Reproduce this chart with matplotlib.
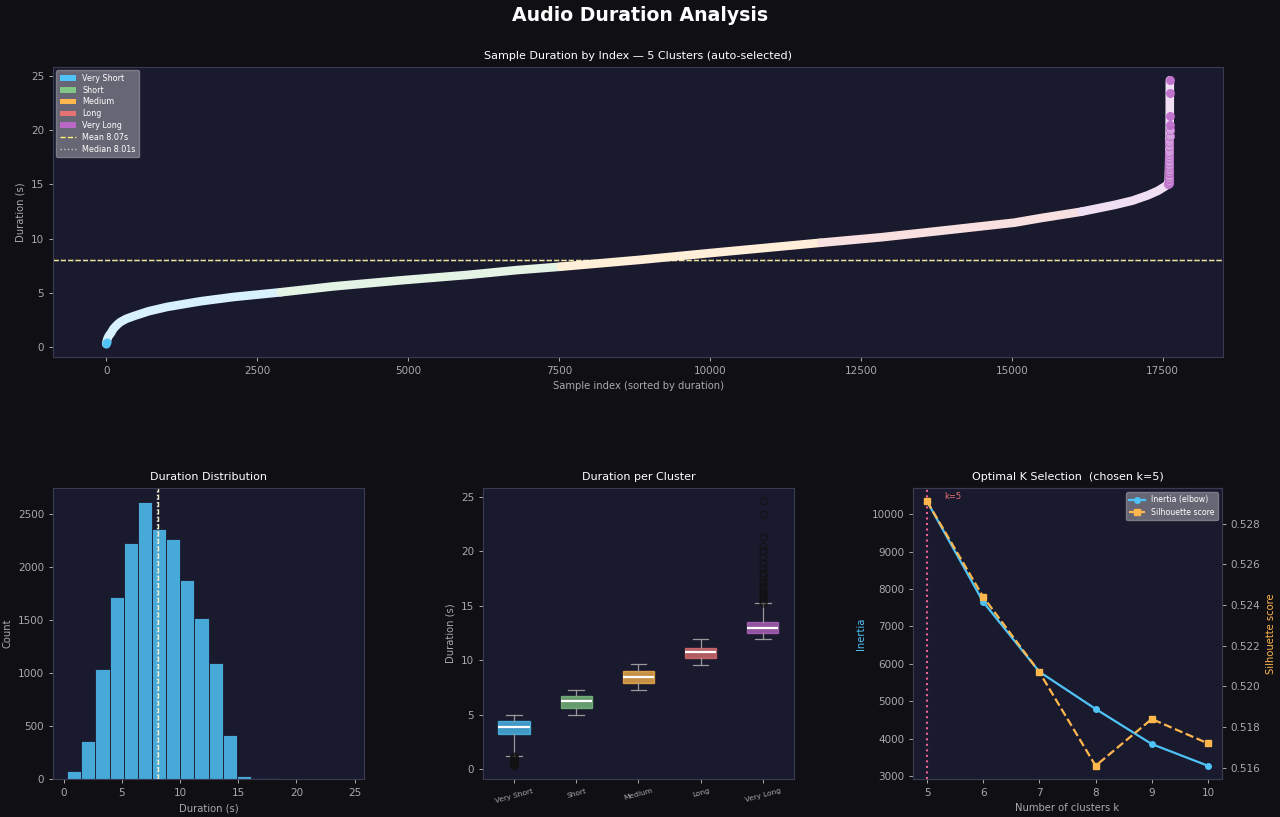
import numpy as np
import matplotlib
matplotlib.use("Agg")
import matplotlib.pyplot as plt
from matplotlib.patches import Patch
from matplotlib.lines import Line2D
from matplotlib.colors import to_rgb

# ---- data ----
cluster_names = ["Very Short", "Short", "Medium", "Long", "Very Long"]
cluster_colors = ["#4fc3f7", "#81c784", "#ffb74d", "#e57373", "#ba68c8"]
cluster_bounds = [4.95, 7.30, 9.60, 11.90]

mean_dur = 8.07
median_dur = 8.01

# sorted durations: sparse head, main band, steep tail
head_index = [0, 3, 6, 10, 15, 20, 28, 36, 46, 58, 70]
head_duration = [0.30, 0.38, 0.46, 0.55, 0.65, 0.75, 0.85, 0.95, 1.05, 1.15, 1.22]

curve_index = [121, 180, 232, 330, 453, 700, 1006, 1559, 2111, 2886, 3770, 4876,
               5982, 6811, 7529, 8856, 10066, 11841, 12836, 13942, 15045, 15460,
               16153, 16700, 17000, 17258, 17420, 17534, 17570]
curve_duration = [1.70, 2.05, 2.30, 2.60, 2.85, 3.30, 3.70, 4.22, 4.62, 5.05, 5.60, 6.15,
                  6.65, 7.10, 7.41, 8.05, 8.70, 9.62, 10.12, 10.79, 11.47, 11.87,
                  12.48, 13.10, 13.50, 14.00, 14.40, 14.79, 14.95]

tail_index = [17596, 17597, 17598, 17599, 17600, 17601, 17602, 17603, 17604, 17605,
              17606, 17607, 17608, 17609, 17610, 17611, 17612, 17613, 17614, 17615,
              17616, 17617, 17618, 17619]
tail_duration = [15.0, 15.1, 15.2, 15.3, 15.45, 15.6, 15.8, 16.0, 16.15, 16.3,
                 16.6, 16.8, 17.1, 17.4, 17.7, 18.0, 18.5, 18.9, 19.5, 20.0,
                 20.45, 21.3, 23.4, 24.6]

# histogram
hist_start = 0.30
hist_width = 1.215
hist_counts = [76, 360, 1040, 1714, 2225, 2614, 2358, 2263, 1875, 1515,
               1098, 415, 30, 8, 5, 2, 2, 1, 0, 2]

# box stats per cluster
box_whislo = [1.23, 4.94, 7.31, 9.61, 11.92]
box_q1 = [3.26, 5.62, 7.92, 10.17, 12.47]
box_med = [3.84, 6.23, 8.45, 10.72, 12.93]
box_q3 = [4.42, 6.70, 9.00, 11.15, 13.54]
box_whishi = [4.98, 7.31, 9.64, 11.95, 15.29]

# k selection
k_values = [5, 6, 7, 8, 9, 10]
inertia = [10339, 7652, 5786, 4795, 3857, 3277]
silhouette = [0.5291, 0.5244, 0.5207, 0.5161, 0.5184, 0.5172]
chosen_k = 5

BG = "#0f0f14"
AX_BG = "#1a1a2e"
GRID_C = "#3a3a52"
TXT = "#aaaaaa"
TICK_FS = 7.5
LABEL_FS = 7.2


def pale(c, f=0.78):
	r, g, b = to_rgb(c)
	return (r + (1 - r) * f, g + (1 - g) * f, b + (1 - b) * f)


def style_ax(ax):
	ax.set_facecolor(AX_BG)
	for s in ax.spines.values():
		s.set_color(GRID_C)
		s.set_linewidth(0.8)
	ax.tick_params(colors=TXT, labelsize=TICK_FS, length=2.8, width=0.7)
	ax.xaxis.label.set_color(TXT)
	ax.yaxis.label.set_color(TXT)


fig = plt.figure(figsize=(12.8, 8.17), dpi=100, facecolor=BG)
fig.suptitle("Audio Duration Analysis", color="white", fontsize=13.6, fontweight="bold", y=0.993)

# ---- top: sorted durations ----
ax = fig.add_axes([0.0414, 0.563, 0.9141, 0.355])
style_ax(ax)

all_idx = np.array(head_index + curve_index + tail_index)
all_dur = np.array(head_duration + curve_duration + tail_duration)
labels = np.digitize(all_dur, cluster_bounds)

for k, c in enumerate(cluster_colors):
	sel = np.where(labels == k)[0]
	if k < len(cluster_colors) - 1:
		sel = np.append(sel, sel[-1] + 1)
	ax.plot(all_idx[sel], all_dur[sel], color=pale(c), lw=6.2,
		solid_capstyle="round", solid_joinstyle="round", zorder=2)

ax.scatter(head_index[:3], head_duration[:3], s=36, color=cluster_colors[0],
	alpha=0.8, linewidths=0, zorder=3)
ax.scatter(tail_index[:-4], tail_duration[:-4], s=36, color=pale(cluster_colors[4], 0.35),
	edgecolors=cluster_colors[4], linewidths=0.6, alpha=0.9, zorder=3)
ax.scatter(tail_index[-4:], tail_duration[-4:], s=42, color=cluster_colors[4],
	alpha=0.9, linewidths=0, zorder=3)

ax.axhline(mean_dur, color="#fff176", ls="--", lw=1.0, zorder=1)
ax.axhline(median_dur, color="#cccccc", ls=":", lw=1.0, zorder=1)
ax.margins(x=0.05, y=0.05)
ax.set_title("Sample Duration by Index — 5 Clusters (auto-selected)", color="white", fontsize=8)
ax.set_xlabel("Sample index (sorted by duration)", fontsize=LABEL_FS)
ax.set_ylabel("Duration (s)", fontsize=LABEL_FS)
ax.set_xticks([0, 2500, 5000, 7500, 10000, 12500, 15000, 17500])

handles = [Patch(facecolor=c, label=n) for c, n in zip(cluster_colors, cluster_names)]
handles.append(Line2D([], [], color="#fff176", ls="--", lw=1.0, label=f"Mean {mean_dur:.2f}s"))
handles.append(Line2D([], [], color="#cccccc", ls=":", lw=1.0, label=f"Median {median_dur:.2f}s"))
ax.legend(handles=handles, loc="upper left", fontsize=5.8, facecolor="#7a7a86",
	edgecolor="#8a8a96", framealpha=0.8, labelcolor="white", handlelength=2.0,
	borderpad=0.45, labelspacing=0.35, borderaxespad=0.4)

# ---- bottom left: histogram ----
ax1 = fig.add_axes([0.0414, 0.0465, 0.243, 0.356])
style_ax(ax1)
lefts = hist_start + hist_width * np.arange(len(hist_counts))
ax1.bar(lefts, hist_counts, width=hist_width, align="edge", color="#4fc3f7",
	alpha=0.85, edgecolor=AX_BG, linewidth=0.7)
ax1.axvline(mean_dur, color="#f5f0c0", ls="--", lw=1.0)
ax1.axvline(median_dur, color="#dddddd", ls=":", lw=1.0)
ax1.set_title("Duration Distribution", color="white", fontsize=8)
ax1.set_xlabel("Duration (s)", fontsize=LABEL_FS)
ax1.set_ylabel("Count", fontsize=LABEL_FS)
ax1.set_xticks([0, 5, 10, 15, 20, 25])

# ---- bottom middle: boxplot ----
ax2 = fig.add_axes([0.3773, 0.0465, 0.243, 0.356])
style_ax(ax2)
stats = []
for i, n in enumerate(cluster_names):
	if i == 0:
		fl = [d for d in head_duration if d < box_whislo[i]]
	elif i == 4:
		fl = [d for d in tail_duration if d > box_whishi[i]]
	else:
		fl = []
	stats.append(dict(label=n, whislo=box_whislo[i], q1=box_q1[i], med=box_med[i],
		q3=box_q3[i], whishi=box_whishi[i], fliers=fl))
bp = ax2.bxp(stats, widths=0.5, patch_artist=True,
	medianprops=dict(color="white", lw=1.6),
	whiskerprops=dict(color="#999999", lw=0.9),
	capprops=dict(color="#999999", lw=0.9),
	flierprops=dict(marker="o", markerfacecolor="none", markeredgecolor="#111111",
		markersize=5, alpha=0.7))
for patch, c in zip(bp["boxes"], cluster_colors):
	patch.set_facecolor(c)
	patch.set_alpha(0.75)
	patch.set_edgecolor(c)
ax2.set_ylim(-0.9, 25.8)
ax2.set_title("Duration per Cluster", color="white", fontsize=8)
ax2.set_ylabel("Duration (s)", fontsize=LABEL_FS)
ax2.tick_params(axis="x", labelsize=5.4, rotation=15)

# ---- bottom right: k selection ----
ax3 = fig.add_axes([0.7133, 0.0465, 0.2414, 0.356])
style_ax(ax3)
l1, = ax3.plot(k_values, inertia, color="#4fc3f7", marker="o", ms=4, lw=1.6, label="Inertia (elbow)")
ax3.set_ylabel("Inertia", color="#4fc3f7", fontsize=LABEL_FS)
ax3.set_xlabel("Number of clusters k", fontsize=LABEL_FS)
ax3.set_title("Optimal K Selection  (chosen k=5)", color="white", fontsize=8)
ax3.axvline(chosen_k, color="#f06292", ls=":", lw=1.5)
ax3.text(chosen_k + 0.3, inertia[0] + 60, f"k={chosen_k}", color="#e57373", fontsize=6)

ax3b = ax3.twinx()
l2, = ax3b.plot(k_values, silhouette, color="#ffb74d", marker="s", ms=4, lw=1.6, ls="--",
	label="Silhouette score")
for s in ax3b.spines.values():
	s.set_color(GRID_C)
ax3b.tick_params(colors=TXT, labelsize=TICK_FS, length=2.8, width=0.7)
ax3b.set_ylabel("Silhouette score", color="#ffb74d", fontsize=LABEL_FS)
ax3b.legend(handles=[l1, l2], loc="upper right", fontsize=5.7, facecolor="#7a7a86",
	edgecolor="#8a8a96", framealpha=0.8, labelcolor="white")

fig.savefig("out.png", dpi=100, facecolor=BG)
